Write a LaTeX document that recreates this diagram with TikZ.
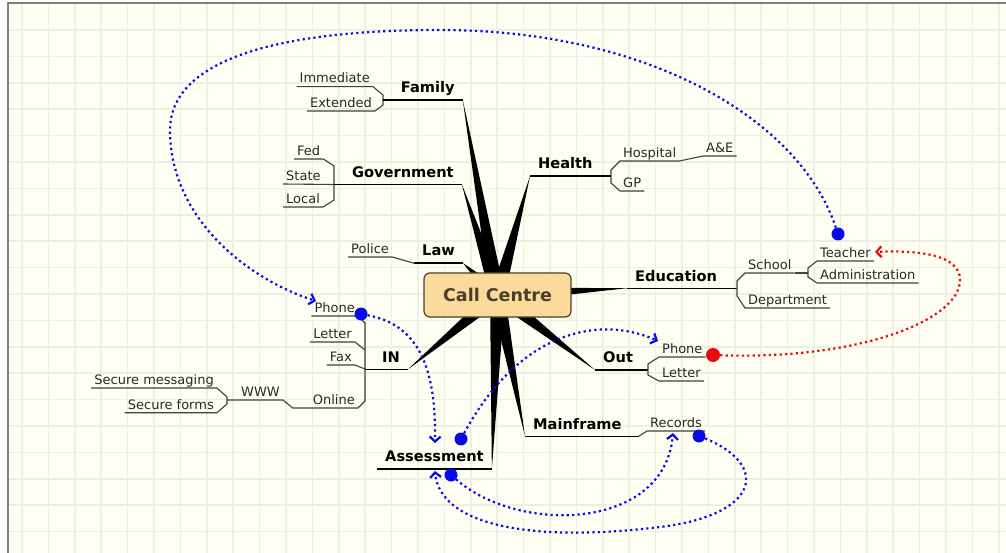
\documentclass[tikz,border=0pt]{standalone}
\usepackage{fontspec}
\setmainfont{DejaVu Sans}
\usetikzlibrary{arrows.meta,calc}
\definecolor{paper}{RGB}{254,254,242}
\definecolor{gridline}{RGB}{237,239,226}
\definecolor{frameline}{RGB}{128,128,120}
\definecolor{hubfill}{RGB}{251,219,156}
\definecolor{hubtext}{RGB}{75,62,45}
\definecolor{subtext}{RGB}{40,40,40}
\definecolor{linkblue}{RGB}{10,10,230}
\definecolor{linkred}{RGB}{235,10,10}

\begin{document}
\begin{tikzpicture}[x=1pt,y=-1pt,
  main/.style={font=\fontsize{14.6}{16}\selectfont\bfseries, inner xsep=8pt, inner ysep=7pt, text depth=0pt, anchor=base west},
  sub/.style={font=\fontsize{13}{15}\selectfont, text=subtext, inner xsep=3pt, inner ysep=3.5pt, text depth=0pt},
  hub/.style={draw=hubtext, line width=1.2pt, fill=hubfill, rounded corners=6pt, minimum width=147pt, minimum height=44pt, inner sep=0pt, text=hubtext, font=\fontsize{17.5}{20}\selectfont\bfseries},
  mline/.style={line width=1.4pt},
  sline/.style={line width=1.1pt, draw=black!75},
  rel/.style={line width=2.2pt, dash pattern=on 2.2pt off 3.2pt, -{Straight Barb[length=5pt,width=11pt]}},
  bullet/.style={circle, inner sep=0pt, minimum size=13pt}]

  \useasboundingbox (0,0) rectangle (1006,553);
  \fill[paper] (8,3) rectangle (1006,553);
  \foreach \k in {0,...,37} \draw[gridline, line width=1.5pt] (22+26.4*\k,3) -- (22+26.4*\k,553);
  \foreach \k in {0,...,19} \draw[gridline, line width=1.5pt] (8,30+26.4*\k) -- (1006,30+26.4*\k);
  \draw[frameline, line width=1.5pt] (8,553) -- (8,3) -- (1006,3);

  \coordinate (hubC) at (497.5,295);

  \node[main] (fam) at (392.7,93) {Family};
  \node[main] (gov) at (344,177.3) {Government};
  \node[main] (law) at (414,256) {Law};
  \node[main] (hea) at (530,169) {Health};
  \node[main] (edu) at (627,281) {Education};
  \node[main] (inn) at (374,362) {IN};
  \node[main] (out) at (595,362.7) {Out};
  \node[main] (mai) at (525,429) {Mainframe};
  \node[main] (ass) at (377,461.7) {Assessment};

  \node[sub, anchor=south east] (imm) at (373,86.7) {Immediate};
  \node[sub, anchor=south east] (ext) at (375,111) {Extended};
  \node[sub, anchor=south west] (fed) at (294,159) {Fed};
  \node[sub, anchor=south west] (sta) at (283,184) {State};
  \node[sub, anchor=south west] (loc) at (283,207) {Local};
  \node[sub, anchor=south west] (pol) at (348,257) {Police};
  \node[sub, anchor=south west] (hos) at (620,161) {Hospital};
  \node[sub, anchor=south west] (ae) at (703,156) {A\&E};
  \node[sub, anchor=south west] (gp) at (620,191) {GP};
  \node[sub, anchor=south west] (sch) at (745,273) {School};
  \node[sub, anchor=south west] (tea) at (817,261) {Teacher};
  \node[sub, anchor=south west] (adm) at (817,283) {Administration};
  \node[sub, anchor=south west] (dep) at (745,308) {Department};
  \node[sub, anchor=south east] (pho) at (358,316) {Phone};
  \node[sub, anchor=south east] (let) at (355,342) {Letter};
  \node[sub, anchor=south east] (fax) at (355,365) {Fax};
  \node[sub, anchor=south east] (onl) at (358,408) {Online};
  \node[sub, anchor=south east] (www) at (283,400) {WWW};
  \node[sub, anchor=south east] (sm) at (217,388) {Secure messaging};
  \node[sub, anchor=south east] (sf) at (217,412.7) {Secure forms};
  \node[sub, anchor=south west] (oph) at (659,357) {Phone};
  \node[sub, anchor=south west] (olt) at (659,381) {Letter};
  \node[sub, anchor=south west] (rec) at (647,431) {Records};

  \coordinate (famT) at (383,95);  \coordinate (famD) at (383,105);
  \coordinate (govT) at (334,166); \coordinate (govD) at (334,200);
  \coordinate (heaT) at (611,170); \coordinate (heaD) at (611,183);
  \coordinate (eduT) at (737,281); \coordinate (eduD) at (737,296);
  \coordinate (schT) at (808,268); \coordinate (schD) at (808,277);
  \coordinate (inT) at (365,323);  \coordinate (inD) at (365,401);
  \coordinate (wwwT) at (227,397); \coordinate (wwwD) at (227,404);
  \coordinate (outT) at (648,364); \coordinate (outD) at (648,375);

  \draw[sline] (imm.south west) -- (imm.south east) -- (famT) -- (famD) -- (ext.south east) -- (ext.south west);
  \draw[mline] (famT |- fam.south) -- (fam.south east);

  \draw[sline] (fed.south west) -- (fed.south east) -- (govT) -- (govD) -- (loc.south east) -- (loc.south west);
  \draw[sline] (sta.south west) -- (govT |- gov.south);
  \draw[mline] (govT |- gov.south) -- (gov.south east);

  \draw[sline] (pol.south west) -- (pol.south east) -- (law.south west);
  \draw[mline] (law.south west) -- (law.south east);

  \draw[mline] (hea.south west) -- (hea.south east) -- (heaT |- hea.south);
  \draw[sline] (ae.south east) -- (ae.south west) -- (hos.south east) -- (hos.south west) -- (heaT) -- (heaD) -- (gp.south west) -- (gp.south east);

  \draw[mline] (edu.south west) -- (edu.south east) -- (eduT |- edu.south);
  \draw[sline] (sch.south east) -- (sch.south west) -- (eduT) -- (eduD) -- (dep.south west) -- (dep.south east);
  \draw[sline] (sch.south east) -- (schT |- sch.south);
  \draw[sline] (tea.south east) -- (tea.south west) -- (schT) -- (schD) -- (adm.south west) -- (adm.south east);

  \draw[sline] (pho.south west) -- (pho.south east) -- (inT) -- (inD) -- (onl.south east) -- (onl.south west) -- ++(-17,0) -- (www.south east) -- (wwwT |- www.south);
  \draw[sline] (let.south west) -- (let.south east) -- ++(10,8);
  \draw[sline] (fax.south west) -- (fax.south east) -- ++(10,4);
  \draw[mline] (inT |- inn.south) -- (inn.south east);
  \draw[sline] (sm.south west) -- (sm.south east) -- (wwwT) -- (wwwD) -- (sf.south east) -- (sf.south west);

  \draw[mline] (out.south west) -- (out.south east) -- (outT |- out.south);
  \draw[sline] (oph.south east) -- (oph.south west) -- (outT) -- (outD) -- (olt.south west) -- (olt.south east);

  \draw[mline] (mai.south west) -- (mai.south east) -- ++(9,0);
  \draw[sline] (mai.south east) ++(9,0) -- (rec.south west) -- (rec.south east);

  \draw[mline] (ass.south west) -- (ass.south east);

  \foreach \e in {fam.south east, gov.south east, law.south east, hea.south west, edu.south west, inn.south east, out.south west, mai.south west, ass.south east}
    \fill (\e) -- ($(hubC)!7.5pt!90:(\e)$) -- ($(hubC)!7.5pt!-90:(\e)$) -- cycle;

  \node[hub] (hub) at (hubC) {Call Centre};

  \coordinate (t1) at (316,301);
  \coordinate (t2) at (435,443);
  \coordinate (t3) at (658,341);
  \coordinate (t4) at (673,433);
  \coordinate (t5) at (435,471);
  \coordinate (t6) at (875,252);

  \node[bullet, fill=linkblue] (d1) at (838,234) {};
  \node[bullet, fill=linkblue] (d2) at (361,314) {};
  \node[bullet, fill=linkblue] (d3) at (461,439) {};
  \node[bullet, fill=linkblue] (d4) at (451,475) {};
  \node[bullet, fill=linkblue] (d5) at (699,436) {};
  \node[bullet, fill=linkred, minimum size=14pt] (d6) at (713,355) {};

  \draw[rel, linkblue] (d1) .. controls (800,120) and (650,30) .. (440,30) .. controls (250,30) and (170,70) .. (170,130) .. controls (170,220) and (250,280) .. (t1);
  \draw[rel, linkblue] (d2) .. controls (420,325) and (436,370) .. (t2);
  \draw[rel, linkblue] (d3) .. controls (520,330) and (600,315) .. (t3);
  \draw[rel, linkblue] (d4) .. controls (520,535) and (665,530) .. (t4);
  \draw[rel, linkblue] (d5) .. controls (770,465) and (760,515) .. (660,527) .. controls (530,543) and (440,525) .. (t5);
  \draw[rel, linkred] (d6) .. controls (860,360) and (960,320) .. (960,280) .. controls (960,255) and (920,250) .. (t6);

\end{tikzpicture}
\end{document}
